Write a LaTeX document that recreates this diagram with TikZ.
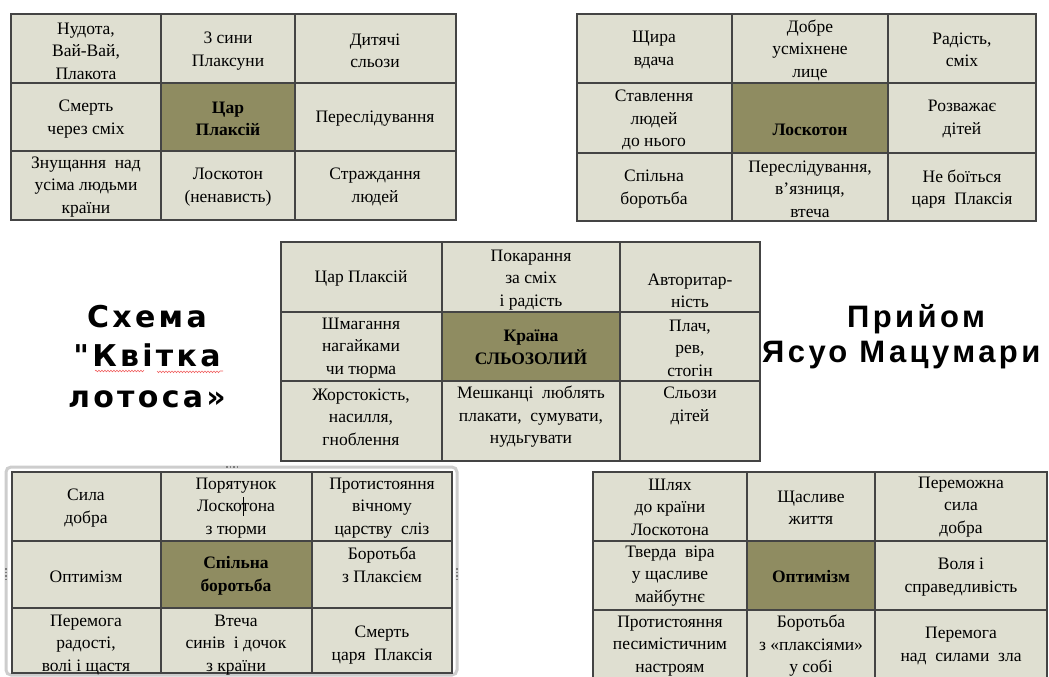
\documentclass[tikz,border=0pt]{standalone}
\usepackage{fontspec}
\usepackage{tikz}
\setmainfont{Liberation Serif}
\newfontfamily\headfont[LetterSpace=11]{Liberation Sans Bold}
\newfontfamily\blackfont[LetterSpace=11]{DejaVu Sans Bold}
\usetikzlibrary{decorations.pathmorphing}
\definecolor{cell1}{HTML}{DFDFD1}
\definecolor{core1}{HTML}{8F8C61}
\definecolor{line1}{HTML}{444444}
\definecolor{frame1}{HTML}{CDCDCD}
\definecolor{wave1}{HTML}{F06060}

\begin{document}
\begin{tikzpicture}[x=1pt,y=-1pt,
  cellbg/.style={fill=cell1},
  corebg/.style={fill=core1},
  rule/.style={draw=line1,line width=1.3pt},
  txt/.style={align=center,inner sep=0pt,font=\fontsize{17.5}{22.5}\selectfont},
  coretxt/.style={txt,font=\fontsize{17.5}{22.5}\selectfont\bfseries},
  head/.style={inner sep=0pt,anchor=base,font=\fontsize{31}{35}\selectfont\headfont},
  blackhd/.style={head,font=\fontsize{30}{35}\selectfont\blackfont}]
\useasboundingbox (0,0) rectangle (1049,677);
\clip (0,0) rectangle (1049,677);
%
% top left
\fill[cellbg] (11,14) rectangle (456,220);
\fill[corebg] (161,83) rectangle (295,151);
\draw[rule] (11,14) rectangle (456,220);
\draw[rule] (161,14) -- (161,220) (295,14) -- (295,220) (11,83) -- (456,83) (11,151) -- (456,151);
\node[txt] (a1) at (86,51) {Нудота,\\Вай-Вай,\\Плакота};
\node[txt] (a2) at (228,51) {3 сини\\Плаксуни};
\node[txt] (a3) at (375,51) {Дитячі\\сльози};
\node[txt] (a4) at (86,119) {Смерть\\через сміх};
\node[coretxt] (a5) at (228,119) {Цар\\Плаксій};
\node[txt] (a6) at (375,119) {Переслідування};
\node[txt] (a7) at (86,187) {Знущання~ над\\усіма людьми\\країни};
\node[txt] (a8) at (228,187) {Лоскотон\\(ненависть)};
\node[txt] (a9) at (375,187) {Страждання\\людей};
%
% top right
\fill[cellbg] (577,14) rectangle (1036,221);
\fill[corebg] (732,83) rectangle (888,153);
\draw[rule] (577,14) rectangle (1036,221);
\draw[rule] (732,14) -- (732,221) (888,14) -- (888,221) (577,83) -- (1036,83) (577,153) -- (1036,153);
\node[txt] (b1) at (654,50) {Щира\\вдача};
\node[txt] (b2) at (810,50) {Добре\\усміхнене\\лице};
\node[txt] (b3) at (962,50) {Радість,\\сміх};
\node[txt] (b4) at (654,120) {Ставлення\\людей\\до нього};
\node[coretxt] (b5) at (810,130) {Лоскотон};
\node[txt] (b6) at (962,119) {Розважає\\дітей};
\node[txt] (b7) at (654,189) {Спільна\\боротьба};
\node[txt] (b8) at (810,189) {Переслідування,\\в’язниця,\\втеча};
\node[txt] (b9) at (962,189) {Не боїться\\царя~ Плаксія};
%
% centre
\fill[cellbg] (281,242) rectangle (760,461);
\fill[corebg] (442,312) rectangle (620,381);
\draw[rule] (281,242) rectangle (760,461);
\draw[rule] (442,242) -- (442,461) (620,242) -- (620,461) (281,312) -- (760,312) (281,381) -- (760,381);
\node[txt] (c1) at (361,278) {Цар Плаксій};
\node[txt] (c2) at (531,280) {Покарання\\за сміх\\і радість};
\node[txt] (c3) at (690,291) {Авторитар-\\ність};
\node[txt] (c4) at (361,348) {Шмагання\\нагайками\\чи тюрма};
\node[coretxt] (c5) at (531,347) {Країна\\СЛЬОЗОЛИЙ};
\node[txt] (c6) at (690,348) {Плач,\\рев,\\стогін};
\node[txt] (c7) at (361,417) {Жорстокість,\\насилля,\\гноблення};
\node[txt] (c8) at (531,417) {Мешканці~ люблять\\плакати,~ сумувати,\\нудьгувати};
\node[txt] (c9) at (690,406) {Сльози\\дітей};
%
% bottom left
\draw[frame1,line width=3pt,rounded corners=5pt] (6,467) rectangle (457,675);
\draw[line1!70,line width=1.5pt,dotted] (226,467) -- (237,467) (6,568) -- (6,581) (457,568) -- (457,581);
\fill[cellbg] (12,472) rectangle (452,673);
\fill[corebg] (161,541) rectangle (312,608);
\draw[rule] (12,472) rectangle (452,673);
\draw[rule] (161,472) -- (161,673) (312,472) -- (312,673) (12,541) -- (452,541) (12,608) -- (452,608);
\node[txt] (d1) at (86,508) {Сила\\добра};
\node[txt] (d2) at (236,508) {Порятунок\\Лоскотона\\з тюрми};
\node[txt] (d3) at (382,508) {Протистояння\\вічному\\царству~ сліз};
\node[txt] (d4) at (86,577) {Оптимізм};
\node[coretxt] (d5) at (236,576) {Спільна\\боротьба};
\node[txt] (d6) at (382,565) {Боротьба\\з Плаксієм};
\node[txt] (d7) at (86,645) {Перемога\\радості,\\волі і щастя};
\node[txt] (d8) at (236,645) {Втеча\\синів~ і дочок\\з країни};
\node[txt] (d9) at (382,645) {Смерть\\царя~ Плаксія};
\draw[line width=0.8pt] (243,497) -- (243,516);
%
% bottom right
\fill[cellbg] (593,472) rectangle (1047,682);
\fill[corebg] (747,541) rectangle (875,610);
\draw[rule] (593,472) rectangle (1047,682);
\draw[rule] (747,472) -- (747,682) (875,472) -- (875,682) (593,541) -- (1047,541) (593,610) -- (1047,610);
\node[txt] (e1) at (670,507) {Шлях\\до країни\\Лоскотона};
\node[txt] (e2) at (811,508) {Щасливе\\життя};
\node[txt] (e3) at (961,507) {Переможна\\сила\\добра};
\node[txt] (e4) at (670,576) {Тверда~ віра\\у щасливе\\майбутнє};
\node[coretxt] (e5) at (811,577) {Оптимізм};
\node[txt] (e6) at (961,577) {Воля і\\справедливість};
\node[txt] (e7) at (670,646) {Протистояння\\песимістичним\\настроям};
\node[txt] (e8) at (811,646) {Боротьба\\з «плаксіями»\\у собі};
\node[txt] (e9) at (961,646) {Перемога\\над~ силами~ зла};
%
% titles
\node[blackhd] (h1) at (147,327) {Схема};
\node[blackhd] (h2) at (147,366) {"Квітка};
\node[blackhd] (h3) at (147,407) {лотоса»};
\draw[wave1,line width=0.6pt,decorate,decoration={snake,amplitude=0.8pt,segment length=3pt}] (95,371) -- (143,371) (157,371) -- (223,371);
\node[head] (h4) at (916,327) {Прийом};
\node[head,anchor=base west] (h5) at (762,362) {Ясуо Мацумари};
\end{tikzpicture}
\end{document}
